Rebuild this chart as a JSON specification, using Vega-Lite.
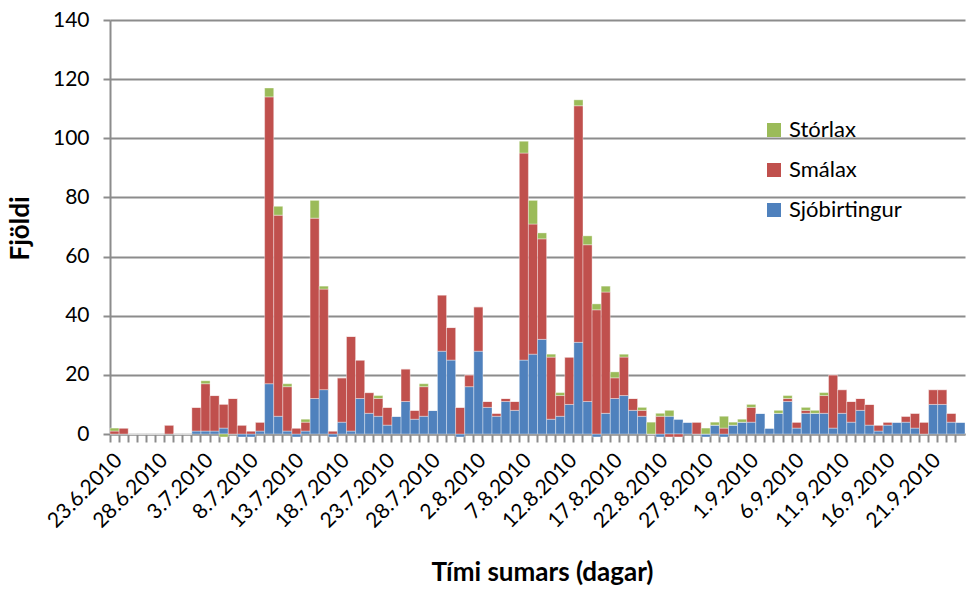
{
  "$schema": "https://vega.github.io/schema/vega-lite/v6.json",
  "autosize": {"type": "none"},
  "width": 855,
  "height": 414,
  "padding": {"left": 110, "top": 20, "right": 4, "bottom": 161},
  "background": "white",
  "config": {"view": {"stroke": null}, "font": "Lato"},
  "data": {"values": [
    {"d": "23.6.2010", "Sjóbirtingur": 0, "Smálax": 1, "Stórlax": 1},
    {"d": "24.6.2010", "Sjóbirtingur": 0, "Smálax": 2, "Stórlax": 0},
    {"d": "25.6.2010", "Sjóbirtingur": 0, "Smálax": 0, "Stórlax": 0},
    {"d": "26.6.2010", "Sjóbirtingur": 0, "Smálax": 0, "Stórlax": 0},
    {"d": "27.6.2010", "Sjóbirtingur": 0, "Smálax": 0, "Stórlax": 0},
    {"d": "28.6.2010", "Sjóbirtingur": 0, "Smálax": 0, "Stórlax": 0},
    {"d": "29.6.2010", "Sjóbirtingur": 0, "Smálax": 3, "Stórlax": 0},
    {"d": "30.6.2010", "Sjóbirtingur": 0, "Smálax": 0, "Stórlax": 0},
    {"d": "1.7.2010", "Sjóbirtingur": 0, "Smálax": 0, "Stórlax": 0},
    {"d": "2.7.2010", "Sjóbirtingur": 1, "Smálax": 8, "Stórlax": 0},
    {"d": "3.7.2010", "Sjóbirtingur": 1, "Smálax": 16, "Stórlax": 1},
    {"d": "4.7.2010", "Sjóbirtingur": 1, "Smálax": 12, "Stórlax": 0},
    {"d": "5.7.2010", "Sjóbirtingur": 2, "Smálax": 8, "Stórlax": -1},
    {"d": "6.7.2010", "Sjóbirtingur": 0, "Smálax": 12, "Stórlax": 0},
    {"d": "7.7.2010", "Sjóbirtingur": -1, "Smálax": 3, "Stórlax": 0},
    {"d": "8.7.2010", "Sjóbirtingur": -1, "Smálax": 1, "Stórlax": 0},
    {"d": "9.7.2010", "Sjóbirtingur": 1, "Smálax": 3, "Stórlax": 0},
    {"d": "10.7.2010", "Sjóbirtingur": 17, "Smálax": 97, "Stórlax": 3},
    {"d": "11.7.2010", "Sjóbirtingur": 6, "Smálax": 68, "Stórlax": 3},
    {"d": "12.7.2010", "Sjóbirtingur": 1, "Smálax": 15, "Stórlax": 1},
    {"d": "13.7.2010", "Sjóbirtingur": -1, "Smálax": 2, "Stórlax": 0},
    {"d": "14.7.2010", "Sjóbirtingur": 1, "Smálax": 3, "Stórlax": 1},
    {"d": "15.7.2010", "Sjóbirtingur": 12, "Smálax": 61, "Stórlax": 6},
    {"d": "16.7.2010", "Sjóbirtingur": 15, "Smálax": 34, "Stórlax": 1},
    {"d": "17.7.2010", "Sjóbirtingur": -1, "Smálax": 1, "Stórlax": 0},
    {"d": "18.7.2010", "Sjóbirtingur": 4, "Smálax": 15, "Stórlax": 0},
    {"d": "19.7.2010", "Sjóbirtingur": 1, "Smálax": 32, "Stórlax": 0},
    {"d": "20.7.2010", "Sjóbirtingur": 12, "Smálax": 13, "Stórlax": 0},
    {"d": "21.7.2010", "Sjóbirtingur": 7, "Smálax": 7, "Stórlax": 0},
    {"d": "22.7.2010", "Sjóbirtingur": 6, "Smálax": 6, "Stórlax": 1},
    {"d": "23.7.2010", "Sjóbirtingur": 3, "Smálax": 6, "Stórlax": 0},
    {"d": "24.7.2010", "Sjóbirtingur": 6, "Smálax": 0, "Stórlax": 0},
    {"d": "25.7.2010", "Sjóbirtingur": 11, "Smálax": 11, "Stórlax": 0},
    {"d": "26.7.2010", "Sjóbirtingur": 5, "Smálax": 3, "Stórlax": 0},
    {"d": "27.7.2010", "Sjóbirtingur": 6, "Smálax": 10, "Stórlax": 1},
    {"d": "28.7.2010", "Sjóbirtingur": 8, "Smálax": 0, "Stórlax": 0},
    {"d": "29.7.2010", "Sjóbirtingur": 28, "Smálax": 19, "Stórlax": 0},
    {"d": "30.7.2010", "Sjóbirtingur": 25, "Smálax": 11, "Stórlax": 0},
    {"d": "31.7.2010", "Sjóbirtingur": -1, "Smálax": 9, "Stórlax": 0},
    {"d": "1.8.2010", "Sjóbirtingur": 16, "Smálax": 4, "Stórlax": 0},
    {"d": "2.8.2010", "Sjóbirtingur": 28, "Smálax": 15, "Stórlax": 0},
    {"d": "3.8.2010", "Sjóbirtingur": 9, "Smálax": 2, "Stórlax": 0},
    {"d": "4.8.2010", "Sjóbirtingur": 6, "Smálax": 1, "Stórlax": 0},
    {"d": "5.8.2010", "Sjóbirtingur": 11, "Smálax": 1, "Stórlax": 0},
    {"d": "6.8.2010", "Sjóbirtingur": 8, "Smálax": 3, "Stórlax": 0},
    {"d": "7.8.2010", "Sjóbirtingur": 25, "Smálax": 70, "Stórlax": 4},
    {"d": "8.8.2010", "Sjóbirtingur": 27, "Smálax": 44, "Stórlax": 8},
    {"d": "9.8.2010", "Sjóbirtingur": 32, "Smálax": 34, "Stórlax": 2},
    {"d": "10.8.2010", "Sjóbirtingur": 5, "Smálax": 21, "Stórlax": 1},
    {"d": "11.8.2010", "Sjóbirtingur": 6, "Smálax": 7, "Stórlax": 1},
    {"d": "12.8.2010", "Sjóbirtingur": 10, "Smálax": 16, "Stórlax": 0},
    {"d": "13.8.2010", "Sjóbirtingur": 31, "Smálax": 80, "Stórlax": 2},
    {"d": "14.8.2010", "Sjóbirtingur": 11, "Smálax": 53, "Stórlax": 3},
    {"d": "15.8.2010", "Sjóbirtingur": -1, "Smálax": 42, "Stórlax": 2},
    {"d": "16.8.2010", "Sjóbirtingur": 7, "Smálax": 41, "Stórlax": 2},
    {"d": "17.8.2010", "Sjóbirtingur": 12, "Smálax": 7, "Stórlax": 2},
    {"d": "18.8.2010", "Sjóbirtingur": 13, "Smálax": 13, "Stórlax": 1},
    {"d": "19.8.2010", "Sjóbirtingur": 8, "Smálax": 4, "Stórlax": 0},
    {"d": "20.8.2010", "Sjóbirtingur": 6, "Smálax": 2, "Stórlax": 1},
    {"d": "21.8.2010", "Sjóbirtingur": 0, "Smálax": 0, "Stórlax": 4},
    {"d": "22.8.2010", "Sjóbirtingur": -1, "Smálax": 6, "Stórlax": 1},
    {"d": "23.8.2010", "Sjóbirtingur": 6, "Smálax": -1, "Stórlax": 2},
    {"d": "24.8.2010", "Sjóbirtingur": 5, "Smálax": -1, "Stórlax": 0},
    {"d": "25.8.2010", "Sjóbirtingur": 4, "Smálax": 0, "Stórlax": 0},
    {"d": "26.8.2010", "Sjóbirtingur": 0, "Smálax": 4, "Stórlax": 0},
    {"d": "27.8.2010", "Sjóbirtingur": -1, "Smálax": 0, "Stórlax": 2},
    {"d": "28.8.2010", "Sjóbirtingur": 3, "Smálax": 0, "Stórlax": 1},
    {"d": "29.8.2010", "Sjóbirtingur": -1, "Smálax": 2, "Stórlax": 4},
    {"d": "30.8.2010", "Sjóbirtingur": 3, "Smálax": 0, "Stórlax": 1},
    {"d": "31.8.2010", "Sjóbirtingur": 4, "Smálax": 0, "Stórlax": 1},
    {"d": "1.9.2010", "Sjóbirtingur": 4, "Smálax": 5, "Stórlax": 1},
    {"d": "2.9.2010", "Sjóbirtingur": 7, "Smálax": 0, "Stórlax": 0},
    {"d": "3.9.2010", "Sjóbirtingur": 2, "Smálax": 0, "Stórlax": 0},
    {"d": "4.9.2010", "Sjóbirtingur": 7, "Smálax": 0, "Stórlax": 1},
    {"d": "5.9.2010", "Sjóbirtingur": 11, "Smálax": 1, "Stórlax": 1},
    {"d": "6.9.2010", "Sjóbirtingur": 2, "Smálax": 2, "Stórlax": 0},
    {"d": "7.9.2010", "Sjóbirtingur": 7, "Smálax": 1, "Stórlax": 1},
    {"d": "8.9.2010", "Sjóbirtingur": 7, "Smálax": 0, "Stórlax": 1},
    {"d": "9.9.2010", "Sjóbirtingur": 7, "Smálax": 6, "Stórlax": 1},
    {"d": "10.9.2010", "Sjóbirtingur": 2, "Smálax": 18, "Stórlax": 0},
    {"d": "11.9.2010", "Sjóbirtingur": 7, "Smálax": 8, "Stórlax": 0},
    {"d": "12.9.2010", "Sjóbirtingur": 4, "Smálax": 7, "Stórlax": 0},
    {"d": "13.9.2010", "Sjóbirtingur": 8, "Smálax": 4, "Stórlax": 0},
    {"d": "14.9.2010", "Sjóbirtingur": 3, "Smálax": 7, "Stórlax": 0},
    {"d": "15.9.2010", "Sjóbirtingur": 1, "Smálax": 2, "Stórlax": 0},
    {"d": "16.9.2010", "Sjóbirtingur": 3, "Smálax": 1, "Stórlax": 0},
    {"d": "17.9.2010", "Sjóbirtingur": 4, "Smálax": 0, "Stórlax": 0},
    {"d": "18.9.2010", "Sjóbirtingur": 4, "Smálax": 2, "Stórlax": 0},
    {"d": "19.9.2010", "Sjóbirtingur": 2, "Smálax": 5, "Stórlax": 0},
    {"d": "20.9.2010", "Sjóbirtingur": 0, "Smálax": 4, "Stórlax": 0},
    {"d": "21.9.2010", "Sjóbirtingur": 10, "Smálax": 5, "Stórlax": 0},
    {"d": "22.9.2010", "Sjóbirtingur": 10, "Smálax": 5, "Stórlax": 0},
    {"d": "23.9.2010", "Sjóbirtingur": 4, "Smálax": 3, "Stórlax": 0},
    {"d": "24.9.2010", "Sjóbirtingur": 4, "Smálax": 0, "Stórlax": 0}
  ]},
  "transform": [
    {"fold": ["Sjóbirtingur", "Smálax", "Stórlax"], "as": ["series", "n"]}
  ],
  "mark": {"type": "bar", "stroke": "white", "strokeWidth": 0.6, "strokeOpacity": 0.6},
  "encoding": {
    "x": {
      "field": "d", "type": "ordinal", "sort": null,
      "scale": {"paddingInner": 0, "paddingOuter": 0},
      "axis": {
        "title": "Tími sumars (dagar)",
        "titleFont": "Lato", "titleFontSize": 26, "titleFontWeight": "bold", "titleColor": "black",
        "titleBaseline": "middle", "titleX": 432, "titleY": 138,
        "labelExpr": "indexof(['23.6.2010','28.6.2010','3.7.2010','8.7.2010','13.7.2010','18.7.2010','23.7.2010','28.7.2010','2.8.2010','7.8.2010','12.8.2010','17.8.2010','22.8.2010','27.8.2010','1.9.2010','6.9.2010','11.9.2010','16.9.2010','21.9.2010'], datum.value) >= 0 ? datum.value : ''",
        "labelAngle": -45, "labelAlign": "right", "labelBaseline": "middle",
        "labelFont": "Lato", "labelFontSize": 21, "labelColor": "black",
        "labelPadding": 15, "labelOffset": 4.5, "labelOverlap": false, "labelBound": false,
        "bandPosition": 0,
        "ticks": true, "tickSize": 8, "tickColor": "#8c8c8c", "tickWidth": 2,
        "domainColor": "#8c8c8c", "domainWidth": 2, "grid": false
      }
    },
    "y": {
      "field": "n", "type": "quantitative", "aggregate": "sum",
      "stack": "zero",
      "scale": {"domain": [0, 140], "nice": false},
      "axis": {
        "title": "Fjöldi",
        "titleFont": "Lato", "titleFontSize": 26, "titleFontWeight": "bold", "titleColor": "black",
        "titleX": -90, "titleY": 208, "titleAngle": -90, "titleBaseline": "middle", "titleAlign": "center",
        "values": [0, 20, 40, 60, 80, 100, 120, 140],
        "labelFont": "Lato", "labelFontSize": 21, "labelColor": "black", "labelPadding": 14,
        "tickSize": 7, "tickColor": "#8c8c8c", "tickWidth": 2,
        "domainColor": "#8c8c8c", "domainWidth": 2,
        "grid": true, "gridColor": "#8c8c8c", "gridWidth": 2
      }
    },
    "color": {
      "field": "series", "type": "nominal",
      "scale": {"domain": ["Stórlax", "Smálax", "Sjóbirtingur"], "range": ["#9BBB59", "#C0504D", "#4F81BD"]},
      "legend": {
        "title": null, "orient": "none", "legendX": 653, "legendY": 99,
        "symbolType": "square", "symbolSize": 196, "symbolStrokeWidth": 0, "symbolOpacity": 1,
        "labelFont": "Lato", "labelFontSize": 22, "labelColor": "black", "labelOffset": 4,
        "rowPadding": 18
      }
    },
    "order": {"field": "series", "sort": "ascending"}
  }
}
